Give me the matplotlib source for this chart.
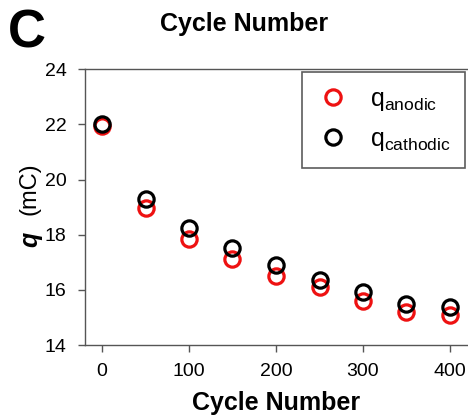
import matplotlib
matplotlib.use("Agg")
import matplotlib.pyplot as plt
from matplotlib.lines import Line2D

plt.rcParams["font.family"] = ["Liberation Sans", "DejaVu Sans"]
plt.rcParams["mathtext.fontset"] = "custom"
plt.rcParams["mathtext.rm"] = "Liberation Sans"
plt.rcParams["mathtext.it"] = "Liberation Sans:italic"
plt.rcParams["mathtext.bf"] = "Liberation Sans:bold"

# carica anodica / catodica per ciclo
cycles = [0, 50, 100, 150, 200, 250, 300, 350, 400]
q_anodic = [21.95, 18.96, 17.85, 17.11, 16.50, 16.09, 15.60, 15.19, 15.09]
q_cathodic = [22.00, 19.28, 18.23, 17.51, 16.90, 16.36, 15.93, 15.49, 15.37]

x_ticks = [0, 100, 200, 300, 400]
y_ticks = [14, 16, 18, 20, 22, 24]

fig = plt.figure(figsize=(4.68, 4.19), dpi=100)
ax = fig.add_axes([84.6 / 468, 74 / 419, (467.4 - 84.6) / 468, (345 - 69.3) / 419])

ax.plot(cycles, q_anodic, "o", mfc="none", mec="#ee1111", ms=11, mew=2.3, label="anodic")
ax.plot(cycles, q_cathodic, "o", mfc="none", mec="black", ms=11, mew=2.3, label="cathodic")

ax.set_xlim(-20, 420)
ax.set_ylim(14, 24)
ax.set_xticks(x_ticks)
ax.set_yticks(y_ticks)
ax.tick_params(direction="out", length=5, width=1, color="#555555", labelsize=14, pad=8)
for s in ["left", "bottom", "top"]:
    ax.spines[s].set_color("#555555")
    ax.spines[s].set_linewidth(1)
ax.spines["right"].set_visible(False)

ax.set_xlabel("Cycle Number", fontsize=18, fontweight="bold", labelpad=8)

# etichetta y: q in grassetto corsivo + unita'
fig.text(30 / 468, 1 - 239 / 419, "q", rotation=90, fontsize=18, fontweight="bold",
         fontstyle="italic", ha="center", va="center")
fig.text(30 / 468, 1 - 189 / 419, "(mC)", rotation=90, fontsize=17,
         ha="center", va="center")

handles = [
    Line2D([], [], ls="none", marker="o", mfc="none", mec="#ee1111", ms=11, mew=2.3),
    Line2D([], [], ls="none", marker="o", mfc="none", mec="black", ms=11, mew=2.3),
]
labels = [r"q$_{\mathrm{anodic}}$", r"q$_{\mathrm{cathodic}}$"]
leg = ax.legend(handles, labels, loc="upper right", bbox_to_anchor=(0.995, 0.99),
                fontsize=18, frameon=True, fancybox=False, handletextpad=0.8,
                borderpad=0.6, labelspacing=0.55, handlelength=1.3, borderaxespad=0)
leg.get_frame().set_edgecolor("#333333")
leg.get_frame().set_linewidth(1.2)

# lettera del pannello e titolo residuo del pannello sopra
fig.text(27 / 468, 1 - 34 / 419, "C", fontsize=38, fontweight="bold", ha="center", va="center")
fig.text(244 / 468, 1 - 24 / 419, "Cycle Number", fontsize=18, fontweight="bold",
         ha="center", va="center")

fig.savefig("out.png", dpi=100)
